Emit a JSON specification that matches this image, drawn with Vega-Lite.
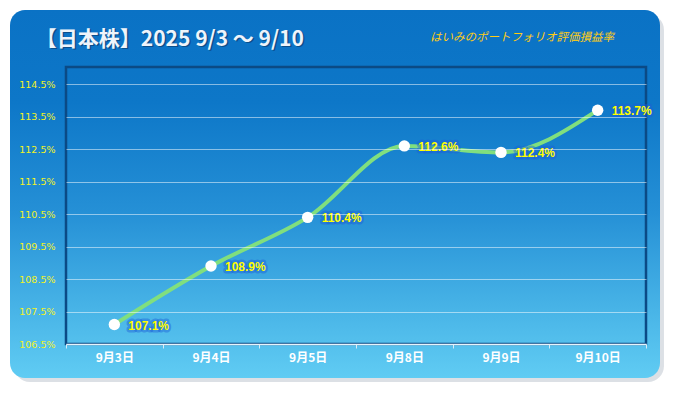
{
  "$schema": "https://vega.github.io/schema/vega-lite/v6.json",
  "width": 580,
  "height": 277,
  "autosize": {"type": "none"},
  "padding": {"left": 66, "top": 67, "right": 29, "bottom": 49},
  "background": "#ffffff",
  "config": {"view": {"stroke": null}},
  "data": {
    "values": [
      {"date": "9月3日", "value": 107.1, "label": "107.1%"},
      {"date": "9月4日", "value": 108.9, "label": "108.9%"},
      {"date": "9月5日", "value": 110.4, "label": "110.4%"},
      {"date": "9月8日", "value": 112.6, "label": "112.6%"},
      {"date": "9月9日", "value": 112.4, "label": "112.4%"},
      {"date": "9月10日", "value": 113.7, "label": "113.7%"}
    ]
  },
  "layer": [
    {
      "data": {"values": [{}]},
      "encoding": {
        "x": {"datum": 0, "type": "quantitative", "scale": {"domain": [0, 1], "nice": false, "zero": false}, "axis": null},
        "y": {"datum": 0, "type": "quantitative", "scale": {"domain": [0, 1], "nice": false, "zero": false}, "axis": null}
      },
      "layer": [
        {
          "mark": {"type": "rect", "fill": "#c4ccd3", "opacity": 0.6, "cornerRadius": 16},
          "encoding": {
            "x": {"datum": -0.0897, "type": "quantitative"},
            "x2": {"datum": 1.031},
            "y": {"datum": -0.1372, "type": "quantitative"},
            "y2": {"datum": 1.1913}
          }
        },
        {
          "mark": {
            "type": "rect",
            "cornerRadius": 15,
            "fill": {
              "gradient": "linear", "x1": 0, "y1": 0, "x2": 0, "y2": 1,
              "stops": [
                {"offset": 0, "color": "#0a72c5"},
                {"offset": 0.25, "color": "#0d77c8"},
                {"offset": 0.55, "color": "#2590d6"},
                {"offset": 0.8, "color": "#46b2e6"},
                {"offset": 1, "color": "#60ccf3"}
              ]
            }
          },
          "encoding": {
            "x": {"datum": -0.09655, "type": "quantitative"},
            "x2": {"datum": 1.02414},
            "y": {"datum": -0.12274, "type": "quantitative"},
            "y2": {"datum": 1.20578}
          }
        },
        {
          "mark": {"type": "rect", "fill": null, "stroke": "#0b4a85", "strokeWidth": 2.5},
          "encoding": {
            "x": {"datum": 0, "type": "quantitative"},
            "x2": {"datum": 1},
            "y": {"datum": 0, "type": "quantitative"},
            "y2": {"datum": 1}
          }
        },
        {
          "mark": {"type": "text", "align": "left", "baseline": "middle", "font": "Noto Sans CJK JP", "fontWeight": "bold", "fontSize": 21, "color": "#0b3f73", "opacity": 0.7, "dx": 1.5, "dy": 1.5},
          "encoding": {
            "x": {"datum": -0.052, "type": "quantitative"},
            "y": {"datum": 1.0975, "type": "quantitative"},
            "text": {"value": "【日本株】2025 9/3 〜 9/10"}
          }
        },
        {
          "mark": {"type": "text", "align": "left", "baseline": "middle", "font": "Noto Sans CJK JP", "fontWeight": "bold", "fontSize": 21, "color": "#eef4fb"},
          "encoding": {
            "x": {"datum": -0.052, "type": "quantitative"},
            "y": {"datum": 1.0975, "type": "quantitative"},
            "text": {"value": "【日本株】2025 9/3 〜 9/10"}
          }
        },
        {
          "mark": {"type": "text", "align": "left", "baseline": "middle", "font": "Noto Sans CJK JP", "fontStyle": "italic", "fontSize": 11.5, "color": "#ffcc14"},
          "encoding": {
            "x": {"datum": 0.6276, "type": "quantitative"},
            "y": {"datum": 1.1047, "type": "quantitative"},
            "text": {"value": "はいみのポートフォリオ評価損益率"}
          }
        }
      ]
    },
    {
      "encoding": {
        "x": {
          "field": "date", "type": "nominal", "sort": null, "bandPosition": 0.5,
          "scale": {"type": "band", "paddingInner": 0, "paddingOuter": 0},
          "axis": {
            "title": null, "labelAngle": 0, "labelColor": "#ffffff", "labelFont": "Noto Sans CJK JP",
            "labelFontWeight": "bold", "labelFontSize": 12, "tickBand": "extent", "tickColor": "#d5ebf8",
            "tickSize": 4, "domainColor": "#e6f4fc", "domainWidth": 1.5, "labelPadding": 4, "grid": false, "zindex": 1
          }
        },
        "y": {
          "field": "value", "type": "quantitative",
          "scale": {"domain": [106.5, 115.03], "nice": false, "zero": false},
          "axis": {
            "title": null, "values": [106.5, 107.5, 108.5, 109.5, 110.5, 111.5, 112.5, 113.5, 114.5],
            "labelExpr": "format(datum.value, '.1f') + '%'", "labelColor": "#f2f21e", "labelFont": "DejaVu Sans",
            "labelFontSize": 9.5, "ticks": false, "domain": false, "labelPadding": 11,
            "grid": true, "gridColor": "#ffffff", "gridOpacity": 0.5, "gridWidth": 1, "zindex": 1
          }
        }
      },
      "layer": [
        {"mark": {"type": "line", "interpolate": "monotone", "color": "#80df7e", "strokeWidth": 4}},
        {"mark": {"type": "circle", "size": 130, "color": "#ffffff", "opacity": 1}},
        {
          "mark": {"type": "text", "align": "left", "baseline": "middle", "dx": 14, "dy": 1, "font": "Liberation Sans", "fontWeight": "bold", "fontSize": 12, "fill": "#1c5fd8", "stroke": "#1c5fd8", "strokeWidth": 5, "strokeOpacity": 0.45, "fillOpacity": 0.8, "strokeJoin": "round"},
          "encoding": {"text": {"field": "label"}}
        },
        {
          "mark": {"type": "text", "align": "left", "baseline": "middle", "dx": 14, "dy": 1, "font": "Liberation Sans", "fontWeight": "bold", "fontSize": 12, "fill": "#ffff00"},
          "encoding": {"text": {"field": "label"}}
        }
      ]
    }
  ],
  "resolve": {"scale": {"x": "independent", "y": "independent"}}
}
